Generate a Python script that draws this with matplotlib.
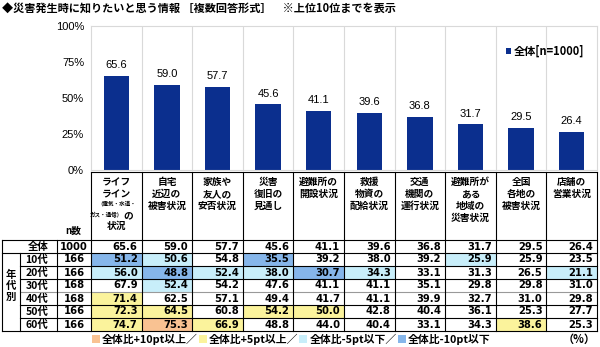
import matplotlib.pyplot as plt
from matplotlib.patches import Rectangle

JP = ["Noto Sans CJK JP", "DejaVu Sans"]
NUM = ["Liberation Sans", "DejaVu Sans"]
TAB = ["DejaVu Sans"]

# ── data ──────────────────────────────────────────────────
title = "◆災害発生時に知りたいと思う情報 ［複数回答形式］　※上位10位までを表示"
cat_labels = [
    None,  # lifeline label is drawn piece by piece
    "自宅\n近辺の\n被害状況",
    "家族や\n友人の\n安否状況",
    "災害\n復旧の\n見通し",
    "避難所の\n開設状況",
    "救援\n物資の\n配給状況",
    "交通\n機関の\n運行状況",
    "避難所が\nある\n地域の\n災害状況",
    "全国\n各地の\n被害状況",
    "店舗の\n営業状況",
]
overall_n = 1000
overall = [65.6, 59.0, 57.7, 45.6, 41.1, 39.6, 36.8, 31.7, 29.5, 26.4]
age_groups = ["10代", "20代", "30代", "40代", "50代", "60代"]
age_n = [166, 166, 168, 168, 166, 166]
age_vals = [
    [51.2, 50.6, 54.8, 35.5, 39.2, 38.0, 39.2, 25.9, 25.9, 23.5],
    [56.0, 48.8, 52.4, 38.0, 30.7, 34.3, 33.1, 31.3, 26.5, 21.1],
    [67.9, 52.4, 54.2, 47.6, 41.1, 41.1, 35.1, 29.8, 29.8, 31.0],
    [71.4, 62.5, 57.1, 49.4, 41.7, 41.1, 39.9, 32.7, 31.0, 29.8],
    [72.3, 64.5, 60.8, 54.2, 50.0, 42.8, 40.4, 36.1, 25.3, 27.7],
    [74.7, 75.3, 66.9, 48.8, 44.0, 40.4, 33.1, 34.3, 38.6, 25.3],
]
legend_labels = ["全体比+10pt以上／", "全体比+5pt以上／", "全体比-5pt以下／", "全体比-10pt以下"]

BAR = "#0b2f8e"
C_P10, C_P5, C_M5, C_M10 = "#f9c292", "#fbf39c", "#c8eefa", "#86b6ea"
GRID = "#d9d9d9"

W, H = 600, 347
fig = plt.figure(figsize=(6.0, 3.47), dpi=100)

# pixel grid for the table
X0 = 91
COLW = (597 - X0) / 10
col_x = [X0 + i * COLW for i in range(11)]

# ── bar chart ─────────────────────────────────────────────
ax = fig.add_axes([X0 / W, 1 - 170 / H, (597 - X0) / W, 144 / H])
xs = range(len(overall))
bars = ax.bar(xs, overall, width=0.5, color=BAR)
for x, v in zip(xs, overall):
    ax.annotate(f"{v:.1f}", (x, v), xytext=(0, 4), textcoords="offset points",
                ha="center", va="bottom", fontsize=8, family=NUM)
ax.set_xlim(-0.5, 9.5)
ax.set_ylim(0, 100)
ax.set_yticks([0, 25, 50, 75, 100])
ax.set_yticklabels(["0%", "25%", "50%", "75%", "100%"], family=NUM, fontsize=8)
ax.set_xticks([i + 0.5 for i in range(9)], minor=True)
ax.set_xticks([])
ax.grid(axis="x", which="minor", color=GRID, lw=0.8)
ax.tick_params(length=0, pad=5, which="both")
for s in ax.spines.values():
    s.set_color(GRID)
ax.legend([bars], [f"全体[n={overall_n}]"], loc="upper right",
          bbox_to_anchor=(0.995, 0.94), frameon=False, handlelength=0.45,
          handleheight=0.45, handletextpad=0.3,
          prop={"family": JP, "size": 8, "weight": "bold"})

# ── table (pixel coordinates) ─────────────────────────────
tx = fig.add_axes([0, 0, 1, 1], zorder=-1)
tx.set_xlim(0, W)
tx.set_ylim(H, 0)
tx.axis("off")

ROW0, ROWH = 240, 13
n_rows = 1 + len(age_groups)
row_y = [ROW0 + i * ROWH for i in range(n_rows + 1)]


def cell_color(v, base):
    d = round(v - base, 1)
    if d >= 10:
        return C_P10
    if d >= 5:
        return C_P5
    if d <= -10:
        return C_M10
    if d <= -5:
        return C_M5
    return None


# cell shading
for r, vals in enumerate(age_vals):
    for c, v in enumerate(vals):
        col = cell_color(v, overall[c])
        if col:
            tx.add_patch(Rectangle((col_x[c], row_y[r + 1]), COLW, ROWH,
                                   facecolor=col, edgecolor="none"))

lw = 0.8
# horizontal rules
tx.plot([X0, 597], [172, 172], color="black", lw=lw)
tx.plot([2, 597], [row_y[0], row_y[0]], color="black", lw=lw)
tx.plot([2, 597], [row_y[1], row_y[1]], color="black", lw=lw)
for i in range(2, n_rows):
    tx.plot([20, 597], [row_y[i], row_y[i]], color="#999999" if i == 4 else "black", lw=lw)
tx.plot([2, 597], [row_y[-1], row_y[-1]], color="black", lw=lw)
# vertical rules
tx.plot([2, 2], [row_y[0], row_y[-1]], color="black", lw=lw)
tx.plot([20, 20], [row_y[1], row_y[-1]], color="black", lw=lw)
tx.plot([57, 57], [row_y[0], row_y[-1]], color="black", lw=lw)
for x in col_x:
    tx.plot([x, x], [172, row_y[-1]], color="black", lw=lw)

# header labels
hdr_kw = dict(ha="center", va="top", family=JP, fontsize=7, fontweight="bold", linespacing=1.25)
for c, lab in enumerate(cat_labels):
    if lab:
        tx.text((col_x[c] + col_x[c + 1]) / 2, 177, lab, **hdr_kw)
cx = (col_x[0] + col_x[1]) / 2
tx.text(cx, 177, "ライフ\nライン", **hdr_kw)
tx.text(cx, 201, "（電気・水道・", ha="center", va="top", family=JP, fontsize=4, fontweight="bold")
tx.text(cx + 7, 212, "ガス・通信）", ha="right", va="top", family=JP, fontsize=4, fontweight="bold")
tx.text(cx + 7, 210, "の", ha="left", va="top", family=JP, fontsize=7, fontweight="bold")
tx.text(cx, 221, "状況", **hdr_kw)
tx.text(73, 236, "n数", ha="center", va="bottom", family=JP, fontsize=7, fontweight="bold")

# rows
num_kw = dict(ha="right", va="center", family=TAB, fontsize=7.2, fontweight="bold")
ymid = (row_y[0] + row_y[1]) / 2
tx.text(38, ymid, "全体", ha="center", va="center", family=JP, fontsize=7.5, fontweight="bold")
tx.text(74, ymid, str(overall_n), ha="center", va="center", family=TAB, fontsize=7.2, fontweight="bold")
for c, v in enumerate(overall):
    tx.text(col_x[c + 1] - 4, ymid, f"{v:.1f}", **num_kw)
for r, (g, n, vals) in enumerate(zip(age_groups, age_n, age_vals)):
    ym = (row_y[r + 1] + row_y[r + 2]) / 2
    tx.text(37, ym, g, ha="center", va="center", family=JP, fontsize=7.5, fontweight="bold")
    tx.text(74, ym, str(n), ha="center", va="center", family=TAB, fontsize=7.2, fontweight="bold")
    for c, v in enumerate(vals):
        tx.text(col_x[c + 1] - 4, ym, f"{v:.1f}", **num_kw)
tx.text(11, (row_y[1] + row_y[-1]) / 2 - 6, "年\n代\n別", ha="center", va="center",
        family=JP, fontsize=7.5, fontweight="bold", linespacing=1.1)

# colour key under the table, each entry placed after the previous one
renderer = fig.canvas.get_renderer()
kx = 92
for col, lab in zip([C_P10, C_P5, C_M5, C_M10], legend_labels):
    tx.add_patch(Rectangle((kx, 335), 8, 8, facecolor=col, edgecolor="none"))
    t = tx.text(kx + 10, 339, lab, ha="left", va="center", family=JP, fontsize=7.8, fontweight="bold")
    kx = t.get_window_extent(renderer).x1 + 1
tx.text(596, 339, "（%）", ha="right", va="center", family=JP, fontsize=8, fontweight="bold")

# title
fig.text(2 / W, 1 - 8 / H, title, ha="left", va="center", family=JP, fontsize=8, fontweight="bold")

fig.savefig("out.png", dpi=100)
